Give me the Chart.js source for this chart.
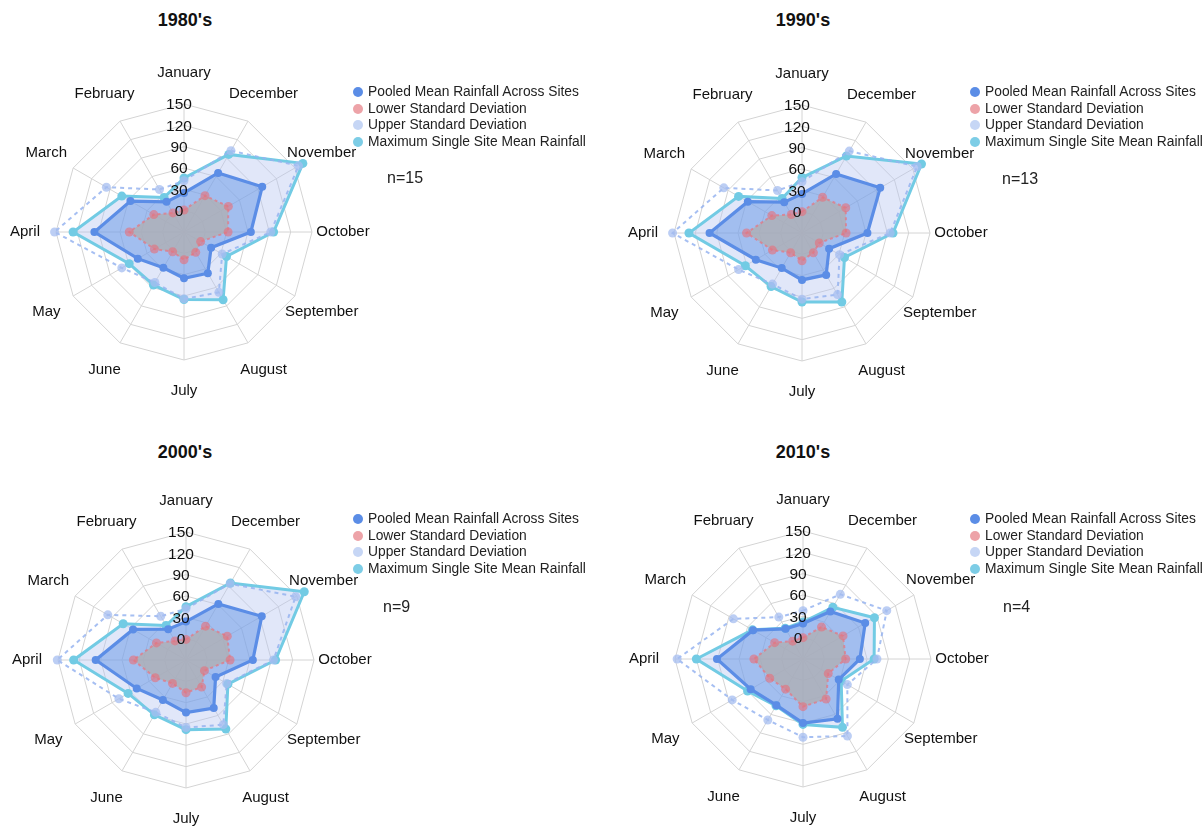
<!DOCTYPE html>
<html>
<head>
<meta charset="utf-8">
<script src="https://cdn.jsdelivr.net/npm/chart.js@4.4.1/dist/chart.umd.min.js"></script>
<style>
  html, body { margin: 0; padding: 0; background: #fff; }
  body { width: 1204px; height: 826px; position: relative; overflow: hidden;
         font-family: "Liberation Sans", Arial, sans-serif; color: #111; }
  canvas { position: absolute; }
  .title { position: absolute; font-weight: bold; font-size: 18px; transform: translate(-50%, -50%); white-space: nowrap; z-index: 2; }
  .legend { position: absolute; font-size: 13.8px; line-height: 16.6px; color: #222; z-index: 2; white-space: nowrap; }
  .legend div { position: relative; padding-left: 15px; }
  .legend span { position: absolute; left: 0; top: 3px; width: 10px; height: 10px; border-radius: 50%; }
  .nlab { position: absolute; font-size: 16px; color: #222; z-index: 2; transform: translateY(-50%); }
</style>
</head>
<body>
<script>
// categories (clockwise from top, as in the figure)
const months = ['January', 'December', 'November', 'October', 'September', 'August',
                'July', 'June', 'May', 'April', 'March', 'February'];
const tickValues = [0, 30, 60, 90, 120, 150];
const seriesNames = ['Pooled Mean Rainfall Across Sites', 'Lower Standard Deviation',
                     'Upper Standard Deviation', 'Maximum Single Site Mean Rainfall'];

// 1980's
const mean80  = [25, 66, 97, 64, 14, 37, 35, 28, 45, 96, 57, 19];
const lower80 = [1, 29, 42, 32, -3, 3, 9, 2, 18, 47, 19, 1];
const upper80 = [42, 102, 156, 92, 32, 68, 64, 52, 71, 152, 96, 39];
const max80   = [46, 96, 163, 96, 39, 80, 65, 56, 59, 126, 71, 26];
// 1990's
const mean90  = [25, 66, 97, 62, 14, 38, 36, 27, 45, 100, 58, 20];
const lower90 = [0, 28, 41, 32, -2, 2, 9, 2, 18, 48, 19, 0];
const upper90 = [42, 103, 157, 94, 31, 70, 63, 53, 73, 152, 97, 39];
const max90   = [48, 95, 164, 98, 39, 82, 67, 57, 62, 129, 73, 26];
// 2000's
const mean00  = [24, 61, 93, 64, 18, 48, 44, 35, 50, 97, 56, 20];
const lower00 = [-1, 25, 37, 32, 0, 14, 16, 8, 20, 44, 18, 1];
const upper00 = [42, 94, 148, 93, 36, 75, 65, 55, 79, 151, 97, 41];
const max00   = [45, 95, 162, 96, 38, 82, 68, 59, 64, 128, 72, 26];
// 2010's
const mean10  = [20, 47, 71, 50, 28, 67, 60, 45, 55, 91, 51, 19];
const lower10 = [0, 22, 35, 30, 11, 35, 37, 19, 24, 39, 16, -1];
const upper10 = [38, 75, 106, 74, 42, 95, 80, 69, 85, 147, 83, 38];
const max10   = [22, 54, 86, 70, 32, 81, 62, 46, 60, 120, 52, 20];

const legendColors = ['#5b8de6', '#eda3a8', '#c6d6f5', '#7dcde6'];

// month names and tick numbers drawn from the radial scale
const labelPlugin = {
  id: 'monthLabels',
  afterDraw(chart) {
    const r = chart.scales.r;
    const ctx = chart.ctx;
    ctx.save();
    ctx.font = '15px "Liberation Sans", Arial, sans-serif';
    ctx.fillStyle = '#111';
    ctx.textAlign = 'center';
    ctx.textBaseline = 'middle';
    months.forEach((m, i) => {
      const p = r.getPointPosition(i, r.drawingArea + 31);
      ctx.fillText(m, p.x, p.y);
    });
    ctx.font = '15.5px "Liberation Sans", Arial, sans-serif';
    tickValues.forEach(v => {
      const d = r.getDistanceFromCenterForValue(v);
      ctx.fillText(String(v), r.xCenter - 5, r.yCenter - d + 1);
    });
    ctx.restore();
  }
};

const makePanel = (p) => {
  const cv = document.createElement('canvas');
  cv.width = 400; cv.height = 350;
  cv.style.left = (p.cx - 200) + 'px';
  cv.style.top = (p.cy - 175) + 'px';
  document.body.appendChild(cv);

  new Chart(cv.getContext('2d'), {
    type: 'radar',
    data: {
      labels: months,
      datasets: [{
        label: seriesNames[0],
        data: p.mean,
        order: 2,
        borderColor: '#5b8de6',
        borderWidth: 3.2,
        backgroundColor: 'rgba(100,150,230,0.5)',
        fill: 'start',
        pointRadius: 4,
        pointBorderWidth: 0,
        pointBackgroundColor: '#5b8de6'
      }, {
        label: seriesNames[1],
        data: p.lower,
        order: 1,
        borderColor: 'rgba(228,120,132,0.75)',
        borderWidth: 2,
        borderDash: [3, 3],
        backgroundColor: 'rgba(175,175,180,0.8)',
        fill: 'start',
        pointRadius: 4.5,
        pointBorderWidth: 0,
        pointBackgroundColor: 'rgba(228,115,128,0.65)'
      }, {
        label: seriesNames[2],
        data: p.upper,
        order: 3,
        borderColor: 'rgba(150,180,240,0.85)',
        borderWidth: 2,
        borderDash: [4, 4],
        fill: false,
        pointRadius: 4.5,
        pointBorderWidth: 0,
        pointBackgroundColor: 'rgba(165,190,240,0.75)'
      }, {
        label: seriesNames[3],
        data: p.max,
        order: 4,
        borderColor: '#72cbe4',
        borderWidth: 3,
        backgroundColor: 'rgba(180,195,240,0.4)',
        fill: 'start',
        pointRadius: 4.5,
        pointBorderWidth: 0,
        pointBackgroundColor: '#72cbe4'
      }]
    },
    options: {
      responsive: false,
      animation: false,
      layout: { padding: { left: 72, right: 72, top: 47, bottom: 47 } },
      elements: { line: { tension: 0 } },
      scales: {
        r: {
          min: -30,
          max: 150,
          ticks: { stepSize: 30, display: false },
          pointLabels: { display: false },
          grid: { color: '#d4d4d4', lineWidth: 1 },
          angleLines: { color: '#d4d4d4', lineWidth: 1 }
        }
      },
      plugins: {
        legend: { display: false },
        tooltip: { enabled: false }
      }
    },
    plugins: [labelPlugin]
  });

  const t = document.createElement('div');
  t.className = 'title';
  t.textContent = p.title;
  t.style.left = p.tx + 'px';
  t.style.top = p.ty + 'px';
  document.body.appendChild(t);

  const lg = document.createElement('div');
  lg.className = 'legend';
  lg.style.left = p.lx + 'px';
  lg.style.top = p.ly + 'px';
  seriesNames.forEach((name, i) => {
    const row = document.createElement('div');
    row.innerHTML = '<span style="background:' + legendColors[i] + '"></span>' + name;
    lg.appendChild(row);
  });
  document.body.appendChild(lg);

  const n = document.createElement('div');
  n.className = 'nlab';
  n.textContent = p.n;
  n.style.left = p.nx + 'px';
  n.style.top = p.ny + 'px';
  document.body.appendChild(n);
};

document.addEventListener('DOMContentLoaded', () => {
  makePanel({ title: "1980's", cx: 184, cy: 232, tx: 185, ty: 20, lx: 353, ly: 84, nx: 387, ny: 178, n: 'n=15',
              mean: mean80, lower: lower80, upper: upper80, max: max80 });
  makePanel({ title: "1990's", cx: 802, cy: 233, tx: 803, ty: 20, lx: 970, ly: 84, nx: 1002, ny: 179, n: 'n=13',
              mean: mean90, lower: lower90, upper: upper90, max: max90 });
  makePanel({ title: "2000's", cx: 186, cy: 660, tx: 185, ty: 452, lx: 353, ly: 511, nx: 383, ny: 607, n: 'n=9',
              mean: mean00, lower: lower00, upper: upper00, max: max00 });
  makePanel({ title: "2010's", cx: 803, cy: 659, tx: 803, ty: 452, lx: 970, ly: 511, nx: 1003, ny: 607, n: 'n=4',
              mean: mean10, lower: lower10, upper: upper10, max: max10 });
});
</script>
</body>
</html>
